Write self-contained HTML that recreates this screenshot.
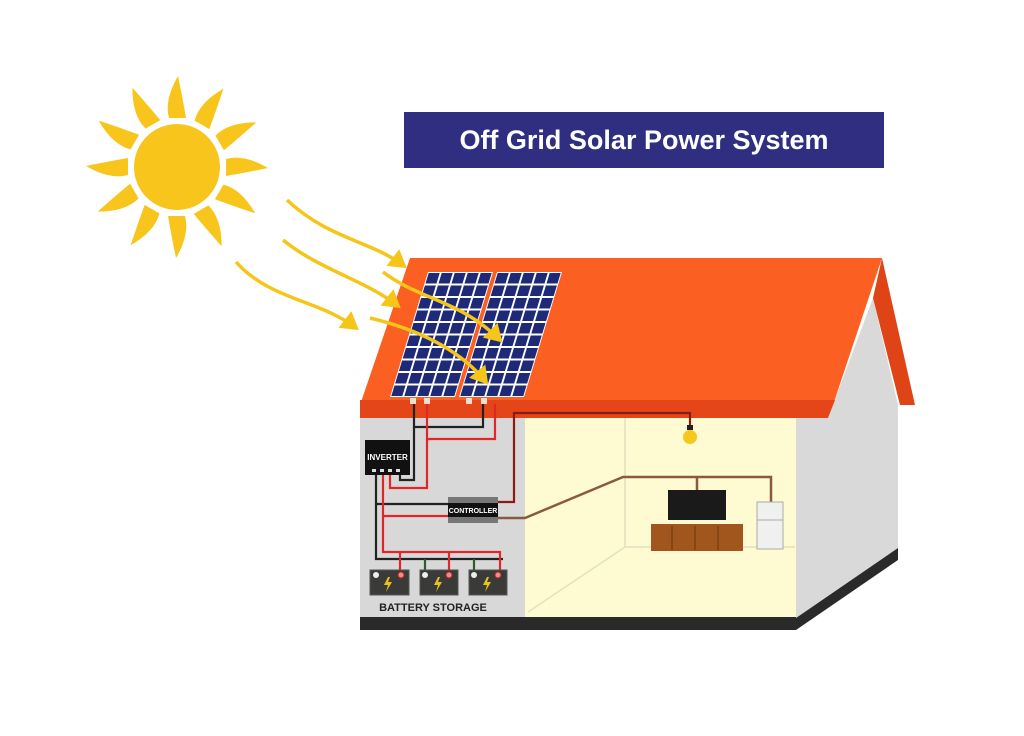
<!DOCTYPE html>
<html><head><meta charset="utf-8"><style>
html,body{margin:0;padding:0;background:#fff;}
svg{display:block;}
text{font-family:"Liberation Sans",sans-serif;}
</style></head><body>
<svg width="1024" height="736" viewBox="0 0 1024 736" xmlns="http://www.w3.org/2000/svg">
<defs>
<marker id="ah" markerWidth="6" markerHeight="6" refX="4" refY="3" orient="auto" markerUnits="strokeWidth">
<path d="M0,0 L5,3 L0,6 Z" fill="#f5c518"/></marker>
<g id="cellgrid">
<rect x="0" y="0" width="65" height="125" fill="#fff"/>
<g fill="#1e2a78">
<rect x="1" y="1" width="11" height="10.5"/><rect x="14" y="1" width="11" height="10.5"/><rect x="27" y="1" width="11" height="10.5"/><rect x="40" y="1" width="11" height="10.5"/><rect x="53" y="1" width="11" height="10.5"/>
</g>
</g>
<g id="row"><g fill="#1e2a78">
<rect x="1" y="1" width="11" height="10.5"/><rect x="14" y="1" width="11" height="10.5"/><rect x="27" y="1" width="11" height="10.5"/><rect x="40" y="1" width="11" height="10.5"/><rect x="53" y="1" width="11" height="10.5"/>
</g></g>
<g id="panel">
<rect x="0" y="0" width="65" height="125" fill="#fff"/>
<use href="#row" y="0"/><use href="#row" y="12.5"/><use href="#row" y="25"/><use href="#row" y="37.5"/><use href="#row" y="50"/>
<use href="#row" y="62.5"/><use href="#row" y="75"/><use href="#row" y="87.5"/><use href="#row" y="100"/><use href="#row" y="112.5"/>
</g>
</defs>
<!-- Sun -->
<g fill="#f8c51c">
<circle cx="177" cy="167" r="43"/>
<g id="ray"><path d="M169,118 Q164,100 178,76 Q182,95 186,118 Z"/></g>
<use href="#ray" transform="rotate(30 177 167)"/><use href="#ray" transform="rotate(60 177 167)"/>
<use href="#ray" transform="rotate(90 177 167)"/><use href="#ray" transform="rotate(120 177 167)"/>
<use href="#ray" transform="rotate(150 177 167)"/><use href="#ray" transform="rotate(180 177 167)"/>
<use href="#ray" transform="rotate(210 177 167)"/><use href="#ray" transform="rotate(240 177 167)"/>
<use href="#ray" transform="rotate(270 177 167)"/><use href="#ray" transform="rotate(300 177 167)"/>
<use href="#ray" transform="rotate(330 177 167)"/>
</g>
<!-- Title -->
<rect x="404" y="112" width="480" height="56" fill="#2f2e80"/>
<text x="644" y="149" font-size="27" font-weight="bold" fill="#fff" text-anchor="middle">Off Grid Solar Power System</text>
<!-- Side wall -->
<polygon points="796,418 828,418 873,298 898,405 898,548 796,618" fill="#d9d9d9"/>
<polygon points="898,548 898,560 796,630 796,618" fill="#2a2a2a"/>
<!-- Front wall -->
<rect x="360" y="418" width="165" height="200" fill="#d8d8d8"/>
<rect x="525" y="418" width="271" height="200" fill="#fefbd2"/>
<rect x="360" y="617" width="436" height="13" fill="#2a2a2a"/>
<!-- room lines -->
<g stroke="#e4e0c0" stroke-width="1.5" fill="none">
<line x1="625" y1="418" x2="625" y2="547"/><line x1="625" y1="547" x2="795" y2="547"/>
<line x1="625" y1="547" x2="528" y2="612"/>
</g>
<!-- Roof -->
<polygon points="410,258 882,258 833,405 360,405" fill="#fb5f22"/>
<polygon points="360,400 835,400 828,418 360,418" fill="#e4461a"/>
<polygon points="882,258 915,405 900,405 873,298" fill="#de4416"/>
<!-- Panels -->
<use href="#panel" transform="translate(428,272) skewX(-16.9)"/>
<use href="#panel" transform="translate(497,272) skewX(-16.9)"/>
<g fill="#f3ddd0"><rect x="410" y="398" width="6" height="6"/><rect x="424" y="398" width="6" height="6"/><rect x="466" y="398" width="6" height="6"/><rect x="481" y="398" width="6" height="6"/></g>
<!-- Sun arrows -->
<g stroke="#f5c518" stroke-width="3.5" fill="none" marker-end="url(#ah)">
<path d="M287,200 C330,240 370,240 404,266"/>
<path d="M283,240 C320,270 365,280 398,306"/>
<path d="M236,262 C270,300 320,300 356,328"/>
<path d="M383,272 C420,300 460,300 500,340"/>
<path d="M370,318 C420,330 460,350 486,382"/>
</g>
<!-- Wires -->
<g fill="none" stroke-width="2.2">
<path d="M414,404 V427 H483 V404" stroke="#222"/>
<path d="M414,427 V480 H400 V475" stroke="#222"/>
<path d="M427,404 V439 H495 V404" stroke="#e3252a"/>
<path d="M427,439 V488 H390 V475" stroke="#e3252a"/>
<path d="M498,502 H514 V413 H690 V428" stroke="#8b1a10"/>
<path d="M376,475 V559 H503" stroke="#222"/>
<path d="M376,504 H448" stroke="#222"/>
<path d="M425,559 V570 M474,559 V570" stroke="#2e5a30"/>
<path d="M383,475 V552 H500 V570 M400,552 V570 M449,552 V570" stroke="#e3252a"/>
<path d="M383,516 H448" stroke="#e3252a"/>
<path d="M498,518 H525 L623,477 H771 V502 M697,477 V490" stroke="#8a5a40" stroke-width="2.5"/>
</g>
<!-- Inverter -->
<rect x="365" y="440" width="45" height="35" fill="#111"/>
<text x="387.5" y="460" font-size="8" font-weight="bold" fill="#fff" text-anchor="middle">INVERTER</text>
<g fill="#ddd"><rect x="372" y="469" width="4" height="3"/><rect x="380" y="469" width="4" height="3"/><rect x="388" y="469" width="4" height="3"/><rect x="396" y="469" width="4" height="3"/></g>
<!-- Controller -->
<rect x="448" y="497" width="50" height="26" fill="#777"/>
<rect x="448" y="503" width="50" height="14" fill="#111"/>
<text x="473" y="513" font-size="7" font-weight="bold" fill="#fff" text-anchor="middle">CONTROLLER</text>
<!-- Batteries -->
<g>
<rect x="370" y="570" width="39" height="25" fill="#3a3a38" stroke="#555"/>
<rect x="420" y="570" width="38" height="25" fill="#3a3a38" stroke="#555"/>
<rect x="469" y="570" width="38" height="25" fill="#3a3a38" stroke="#555"/>
<g fill="#eee"><circle cx="376" cy="575" r="3"/><circle cx="425" cy="575" r="3"/><circle cx="474" cy="575" r="3"/></g>
<g fill="#e89090" stroke="#c02020"><circle cx="401" cy="575" r="3"/><circle cx="449" cy="575" r="3"/><circle cx="498" cy="575" r="3"/></g>
<g fill="#e8c020"><path d="M388,577 L384,585 L388,585 L386,592 L392,582 L388,582 L390,577Z"/><path d="M438,577 L434,585 L438,585 L436,592 L442,582 L438,582 L440,577Z"/><path d="M487,577 L483,585 L487,585 L485,592 L491,582 L487,582 L489,577Z"/></g>
</g>
<text x="433" y="611" font-size="11" font-weight="bold" fill="#222" text-anchor="middle">BATTERY STORAGE</text>
<!-- Room items -->
<circle cx="690" cy="437" r="7" fill="#f4c81c"/>
<rect x="687" y="425" width="6" height="5" fill="#222"/>
<rect x="668" y="490" width="58" height="30" fill="#1a1a1a"/>
<rect x="651" y="524" width="92" height="27" fill="#a0561c"/>
<g stroke="#6a3510" stroke-width="1"><line x1="672" y1="526" x2="672" y2="550"/><line x1="695" y1="526" x2="695" y2="550"/><line x1="718" y1="526" x2="718" y2="550"/></g>
<rect x="757" y="502" width="26" height="47" fill="#f0f0ee" stroke="#aaa"/>
<line x1="757" y1="520" x2="783" y2="520" stroke="#aaa"/>
</svg>
</body></html>
